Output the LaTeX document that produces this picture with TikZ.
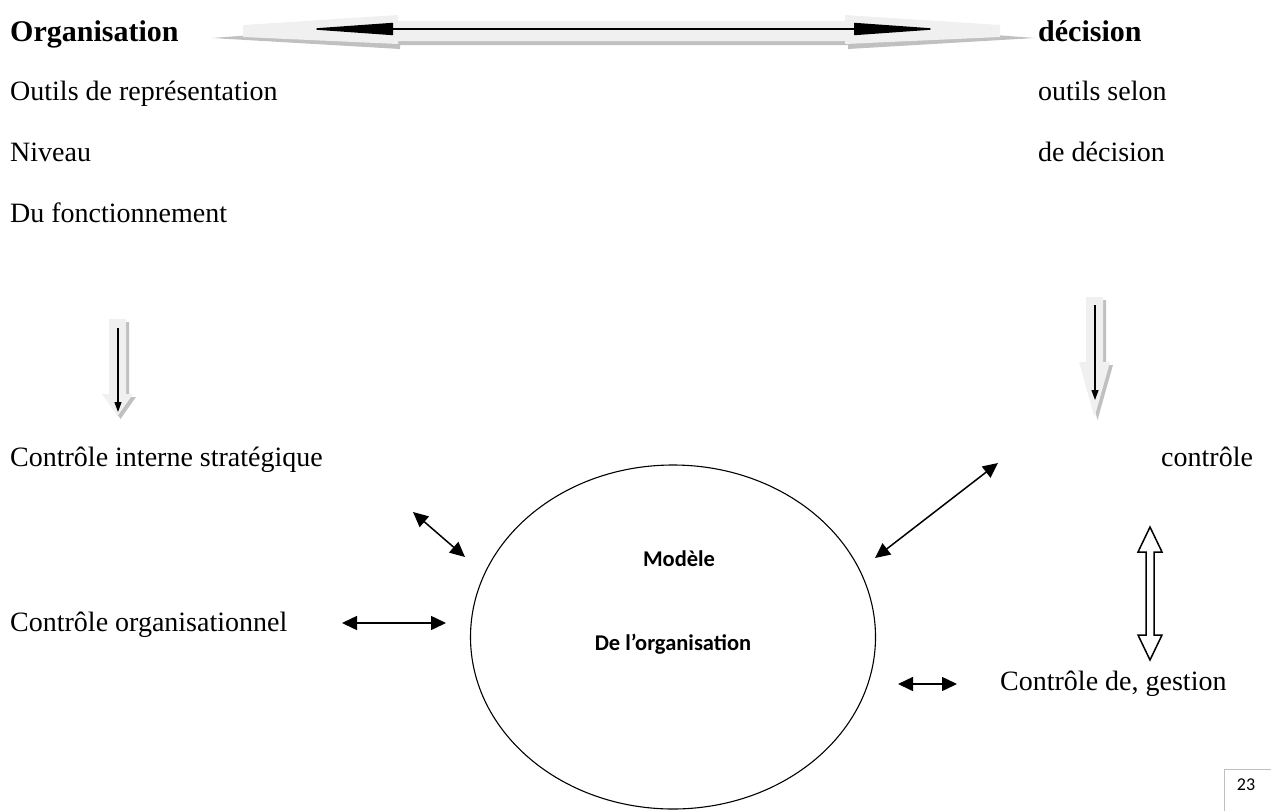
\documentclass[tikz,border=0pt]{standalone}
\usepackage{fontspec}
\setmainfont{Liberation Serif}
\newfontfamily\calibri{Carlito}
\usetikzlibrary{arrows.meta,shapes.geometric}
\definecolor{lightband}{HTML}{F0F0F0}
\definecolor{shadowgray}{HTML}{C0C0C0}
\definecolor{pagegray}{HTML}{BFBFBF}
\begin{document}
\begin{tikzpicture}[x=1pt,y=-1pt,
  txt/.style={inner sep=0pt, anchor=base west, font=\fontsize{28}{31}\selectfont},
  btxt/.style={inner sep=0pt, anchor=base west, font=\fontsize{30}{33}\selectfont\bfseries},
  ctxt/.style={inner sep=0pt, anchor=base, font=\calibri\bfseries\fontsize{22.5}{26}\selectfont},
  dblarrow/.style={line width=1.5pt, {Triangle[length=15pt,width=14pt]}-{Triangle[length=15pt,width=14pt]}},
  bandlight/.style={fill=lightband, draw=none},
  bandshadow/.style={fill=shadowgray, draw=none},
  thinarrow/.style={line width=1.2pt, -{Triangle[length=10pt,width=7pt]}},
]
\useasboundingbox (0,0) rectangle (1271,811);

% texts left
\node[btxt] (org) at (10,41) {Organisation};
\node[txt] (outils) at (10,100) {Outils de représentation};
\node[txt] (niveau) at (10,161) {Niveau};
\node[txt] (dufonc) at (10,222) {Du fonctionnement};
\node[txt] (cis) at (10,466) {Contrôle interne stratégique};
\node[txt] (corg) at (10,631) {Contrôle organisationnel};
% texts right
\node[btxt] (dec) at (1038,41) {décision};
\node[txt] (osel) at (1038,100) {outils selon};
\node[txt] (ddec) at (1038,161) {de décision};
\node[txt] (ctrl) at (1161,466) {contrôle};
\node[txt] (cgest) at (1000,690) {Contrôle de, gestion};

% top double block arrow
\fill[bandshadow] (212,38) -- (400,24) -- (400,30) -- (848,30) -- (848,24) -- (1035,38)
  -- (848,49) -- (848,45) -- (400,45) -- (400,49) -- cycle;
\fill[bandlight] (243,25) -- (398,15) -- (398,21) -- (845,21) -- (845,15) -- (1000,25)
  -- (1000,37) -- (845,44) -- (845,41) -- (398,41) -- (398,44) -- (243,37) -- cycle;
\coordinate (ta1) at (305,29);
\coordinate (ta2) at (942,29);
\draw[line width=1.6pt, {Triangle[length=88pt,width=12pt]}-{Triangle[length=88pt,width=12pt]}] (ta1) -- (ta2);

% left down block arrow
\fill[bandshadow] (112,322) -- (129,322) -- (129,397) -- (136,397) -- (120.5,419) -- (106,397) -- (112,397) -- cycle;
\fill[bandlight] (109,319) -- (126,319) -- (126,394) -- (133,394) -- (117.5,416) -- (102,394) -- (109,394) -- cycle;
\coordinate (la1) at (118,328);
\coordinate (la2) at (118,412);
\draw[thinarrow] (la1) -- (la2);

% right down block arrow
\fill[bandshadow] (1089,300) -- (1106,300) -- (1106,365) -- (1113,365) -- (1097.5,420) -- (1083,365) -- (1089,365) -- cycle;
\fill[bandlight] (1086,297) -- (1103,297) -- (1103,362) -- (1110,362) -- (1094.5,417) -- (1079,362) -- (1086,362) -- cycle;
\coordinate (ra1) at (1095,305);
\coordinate (ra2) at (1095,400);
\draw[thinarrow] (ra1) -- (ra2);

% hollow vertical double arrow
\draw[line width=1.5pt, fill=white, line join=miter]
  (1150,527) -- (1162,552) -- (1154,552) -- (1154,635) -- (1162,635) -- (1150,660)
  -- (1138,635) -- (1146,635) -- (1146,552) -- (1138,552) -- cycle;

% ellipse
\node[draw, ellipse, line width=1.1pt, minimum width=405pt, minimum height=344pt, inner sep=0pt] (model) at (673,637) {};
\node[ctxt] (mod1) at (679,566) {Modèle};
\node[ctxt] (mod2) at (673,650) {De l’organisation};

% small arrows
\coordinate (s1a) at (413,512);
\coordinate (s1b) at (465,557);
\draw[dblarrow] (s1a) -- (s1b);
\coordinate (s2a) at (998,463);
\coordinate (s2b) at (875,558);
\draw[dblarrow] (s2a) -- (s2b);
\coordinate (s3a) at (342,623);
\coordinate (s3b) at (446,623);
\draw[dblarrow] (s3a) -- (s3b);
\coordinate (s4a) at (898,684);
\coordinate (s4b) at (957,684);
\draw[dblarrow] (s4a) -- (s4b);

% page number
\draw[pagegray, line width=1pt] (1224,811) -- (1224,769) -- (1271,769);
\node[inner sep=0pt, font=\calibri\fontsize{18}{20}\selectfont] (pnum) at (1246,785) {23};
\end{tikzpicture}
\end{document}
